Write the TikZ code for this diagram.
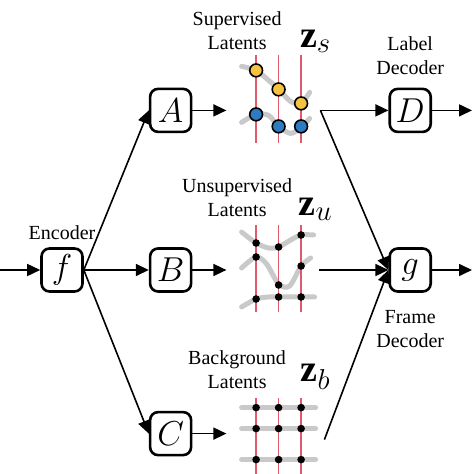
\documentclass[tikz,border=0pt]{standalone}
\usepackage{fontspec}
\setmainfont{Liberation Serif}
\usepackage{amsmath}
\usetikzlibrary{positioning,arrows.meta}

\definecolor{supyellow}{HTML}{F5C242}
\definecolor{supblue}{HTML}{2F7BC1}
\definecolor{latentred}{HTML}{E05A6C}
\definecolor{curvegray}{HTML}{C9C9C9}

\begin{document}
\begin{tikzpicture}[
    x=0.5pt, y=-0.5pt,
    block/.style={rectangle, rounded corners=4pt, draw, line width=1.3pt, minimum width=20.5pt, minimum height=21.5pt, inner sep=0pt, font=\fontsize{16}{19}\selectfont},
    caption/.style={align=center, inner sep=0pt},
    zlabel/.style={font=\fontsize{19}{22}\selectfont, inner sep=0pt},
    arrow/.style={-{Triangle[length=6.5pt,width=6pt]}, line width=0.8pt},
    latent/.style={latentred, line width=0.7pt},
    curve/.style={curvegray, line width=2.5pt, line cap=round},
    supdot/.style={draw=black, line width=0.8pt, fill=#1},
    unsdot/.style={fill=black}
]
\useasboundingbox (0,0) rectangle (474,474);

% Encoder and the three latent heads
\node[block] (f) at (62,270) {$f$};
\coordinate[left=20.5pt of f] (x);
\node[caption, above=3.5pt of f] (enc) {Encoder};
\node[block, right=32.5pt of f] (B) {$B$};
\node[block, above=57pt of B] (A) {$A$};
\node[block, below=59pt of B] (C) {$C$};

% Decoders
\node[block, right=98pt of A] (D) {$D$};
\node[block, right=98pt of B] (g) {$g$};
\node[caption, above=6pt of D] (labdec) {Label\\Decoder};
\node[caption, below=8.5pt of g] (framedec) {Frame\\Decoder};
\coordinate[right=20pt of D] (Dout);
\coordinate[right=20pt of g] (gout);

% Latent anchors
\coordinate[right=54pt of A.center] (zs);
\coordinate[right=54pt of B.center] (zu);
\coordinate[right=54pt of C.center] (zb);
\coordinate[right=17pt of A] (zsin);
\coordinate[right=17pt of B] (zuin);
\coordinate[right=17pt of C] (zbin);
\coordinate[right=64pt of A] (zsout);
\coordinate[right=63.5pt of B] (zuout);
\coordinate[right=66pt of C, yshift=-3pt] (zbout);

% Supervised latents
\begin{scope}[shift={(zs)}]
  \draw[curve] plot[smooth] coordinates {(-37,-44) (-22.5,-40) (-10,-30) (0,-21) (12,-9) (22.5,-7) (31,-18)};
  \draw[curve] plot[smooth] coordinates {(-37,12) (-22.5,4) (-10,5) (0,16) (12,23) (22.5,17) (31,8)};
  \foreach \lx in {-22.5,0,22.5}
    \draw[latent] (\lx,-55) -- (\lx,33);
  \foreach \px/\py in {-22.5/-40, 0/-21, 22.5/-7}
    \draw[supdot=supyellow] (\px,\py) circle (3.2pt);
  \foreach \px/\py in {-22.5/4, 0/16, 22.5/16}
    \draw[supdot=supblue] (\px,\py) circle (3.2pt);
  \node[caption] (zscap) at (-41.5,-80) {Supervised\\Latents};
  \node[zlabel] (zsname) at (37,-69) {$\mathbf{z}_s$};
\end{scope}

% Unsupervised latents
\begin{scope}[shift={(zu)}]
  \draw[curve] plot[smooth] coordinates {(-37,-38) (-22.5,-27) (-10,-22) (0,-23) (12,-30) (22.5,-35) (35,-35)};
  \draw[curve] plot[smooth] coordinates {(-37,-2) (-22.5,-13) (-12,-6) (0,14) (11,16) (22.5,-4) (32,-12)};
  \draw[curve] plot[smooth] coordinates {(-37,37) (-22.5,29) (-10,27) (0,27) (22.5,27) (36,27)};
  \foreach \lx in {-22.5,0,22.5}
    \draw[latent] (\lx,-45) -- (\lx,42);
  \foreach \px/\py in {-22.5/-27, 0/-23, 22.5/-35, -22.5/-13, 22.5/-4, 0/15, -22.5/29, 0/27, 22.5/27}
    \fill[unsdot] (\px,\py) circle (1.9pt);
  \node[caption] (zucap) at (-41.5,-72) {Unsupervised\\Latents};
  \node[zlabel] (zuname) at (37,-61) {$\mathbf{z}_u$};
\end{scope}

% Background latents
\begin{scope}[shift={(zb)}]
  \foreach \ly in {-26,-5,26}
    \draw[curve] (-37,\ly) -- (37,\ly);
  \foreach \lx in {-22.5,0,22.5}
    \draw[latent] (\lx,-36) -- (\lx,42);
  \foreach \lx in {-22.5,0,22.5}
    \foreach \ly in {-26,-5,26}
      \fill[unsdot] (\lx,\ly) circle (1.9pt);
  \node[caption] (zbcap) at (-41.5,-64) {Background\\Latents};
  \node[zlabel] (zbname) at (37,-57) {$\mathbf{z}_b$};
\end{scope}

% Connections
\draw[arrow] (x) -- (f);
\draw[arrow] (f.east) -- (A.west);
\draw[arrow] (f) -- (B);
\draw[arrow] (f.east) -- (C.west);
\draw[arrow] (A) -- (zsin);
\draw[arrow] (B) -- (zuin);
\draw[arrow] (C) -- (zbin);
\draw[arrow] (zsout) -- (D);
\draw[arrow] (zsout) -- (g.west);
\draw[arrow] (zuout) -- (g.west);
\draw[arrow] (zbout) -- (g.west);
\draw[arrow] (D) -- (Dout);
\draw[arrow] (g) -- (gout);

\end{tikzpicture}
\end{document}
